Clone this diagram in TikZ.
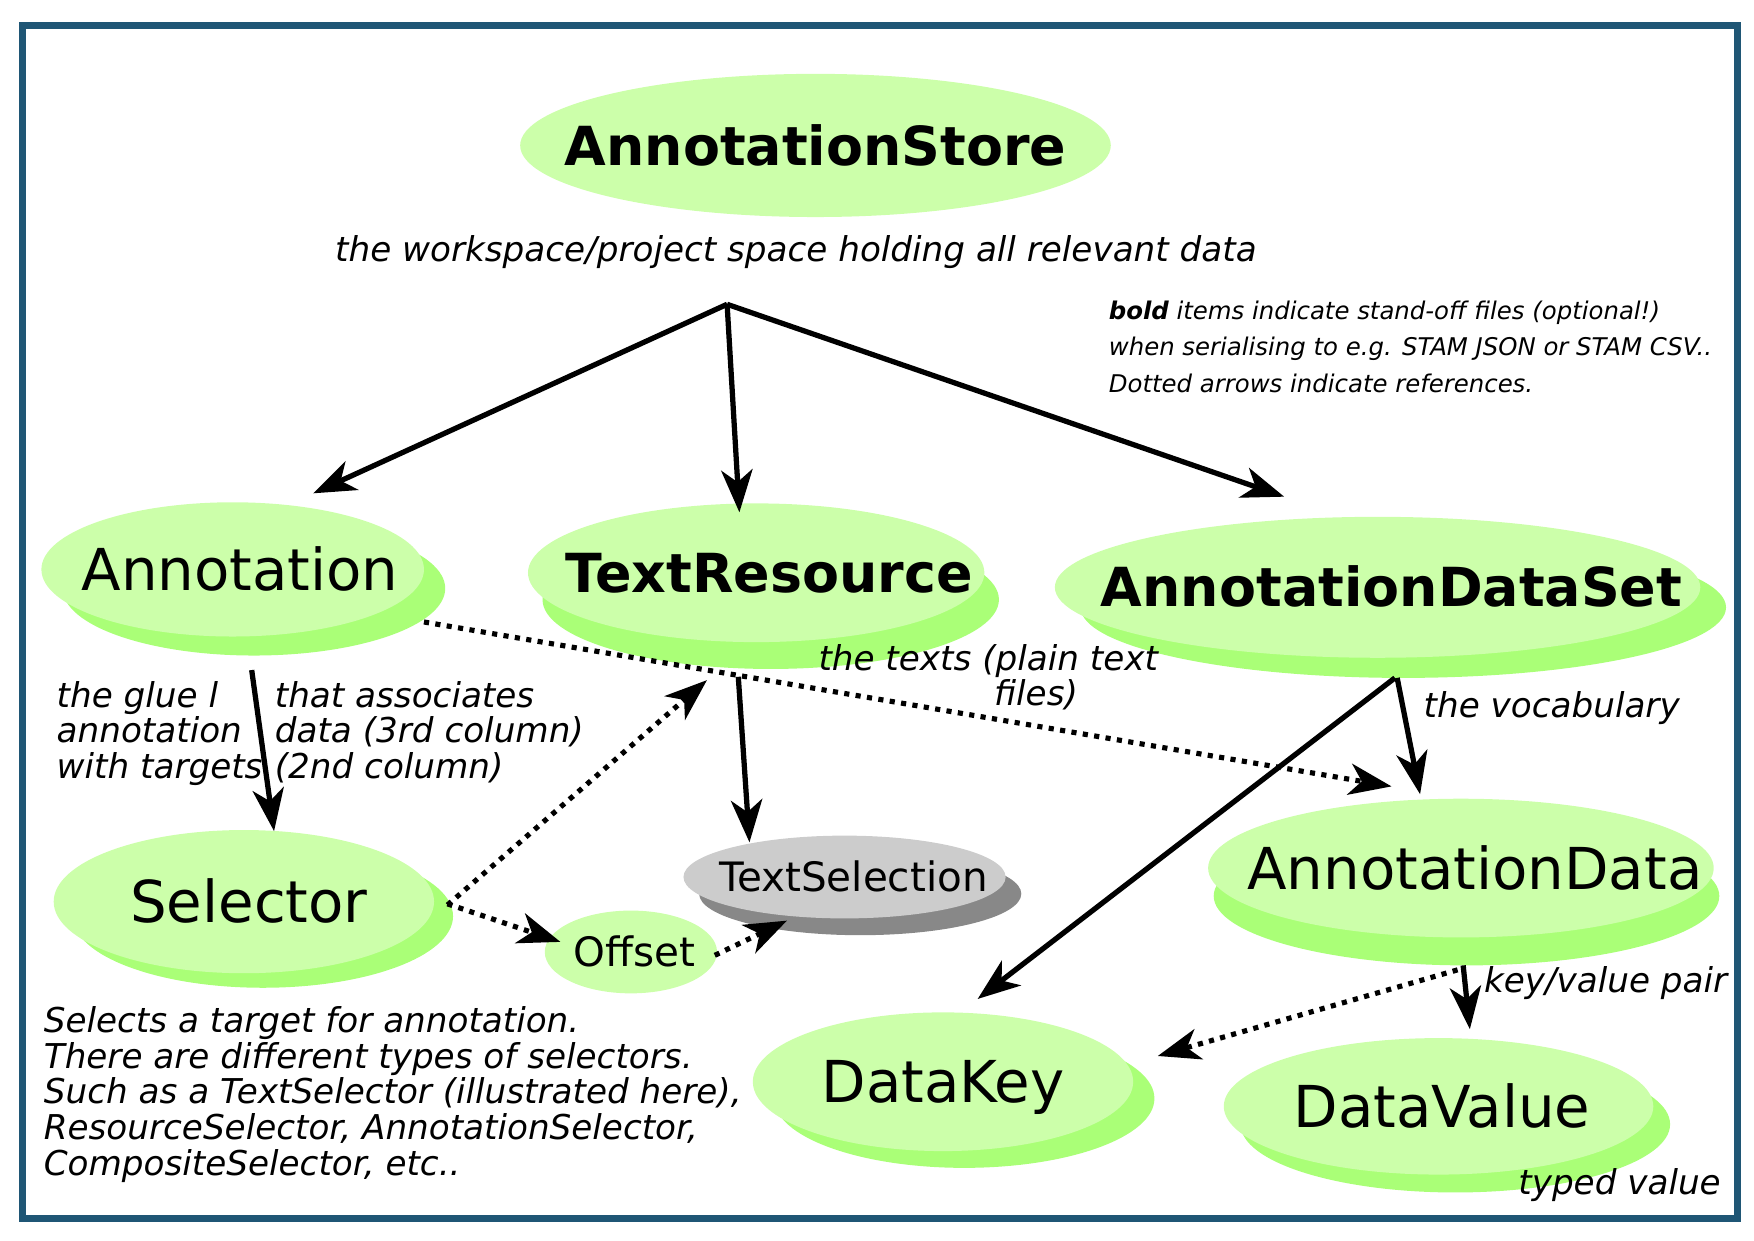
\documentclass[tikz,border=0pt]{standalone}
\usepackage{fontspec}
\setmainfont{DejaVu Sans}
\usepackage{tikz}
\usetikzlibrary{arrows.meta, shapes.geometric, shadows, calc}

\definecolor{frameblue}{RGB}{31,86,117}
\definecolor{leaf}{RGB}{204,255,170}
\definecolor{leafshade}{RGB}{170,255,119}
\definecolor{stone}{RGB}{204,204,204}
\definecolor{stoneshade}{RGB}{136,136,136}

\begin{document}
\begin{tikzpicture}[
    x=0.1mm, y=-0.1mm,
    >={Stealth[length=3.8mm, width=2.8mm, inset=1.1mm]},
    entity/.style={ellipse, fill=leaf, inner sep=0pt, outer sep=0pt,
        font=\fontsize{14.7}{17}\selectfont, text height=10.7pt, text depth=0pt},
    stored/.style={entity, font=\fontsize{13.7}{16}\selectfont\bfseries, text height=10pt},
    minor/.style={entity, font=\fontsize{10.3}{12}\selectfont, text height=7.5pt},
    lift/.style n args={3}{drop shadow={shadow xshift=#1, shadow yshift=-#2,
        opacity=1, fill=#3}},
    link/.style={->, line width=0.47mm},
    ref/.style={->, line width=0.46mm, dash pattern=on 0.46mm off 0.57mm},
    remark/.style={inner sep=0pt, font=\fontsize{8.7}{9.07}\selectfont\itshape}
]
    \useasboundingbox (0,0) rectangle (1568,1109);
    \draw[frameblue, line width=0.6mm] (20,23) rectangle (1553,1089);

    % the store and what it holds
    \node[stored, minimum width=52.8mm, minimum height=12.8mm] (store) at (729,130) {\makebox[0pt]{AnnotationStore}};
    \node[remark, anchor=base] (scope) at (711.5,234) {the workspace/project space holding all relevant data};
    \coordinate (hub) at (650,272);

    \node[remark, anchor=base west, align=left, font=\fontsize{6.2}{9.2}\selectfont\itshape] (legend) at (990.6,350.5)
        {\textbf{bold} items indicate stand-off files (optional!)\\when serialising to e.g. STAM JSON or STAM CSV..\\Dotted arrows indicate references.};

    \node[entity, lift={1.9mm}{1.7mm}{leafshade}, minimum width=34.2mm, minimum height=12mm] (annot) at (208,509) {\makebox[0pt]{\hspace*{1.3mm}Annotation}};
    \node[stored, lift={1.3mm}{2.4mm}{leafshade}, minimum width=40.8mm, minimum height=12.4mm] (res) at (676,512) {\makebox[0pt]{\hspace*{2.3mm}TextResource}};
    \node[stored, lift={2.3mm}{1.8mm}{leafshade}, minimum width=57.7mm, minimum height=12.6mm] (dset) at (1231.5,525) {\makebox[0pt]{\hspace*{2.5mm}AnnotationDataSet}};

    \node[entity, lift={1.7mm}{1.3mm}{leafshade}, minimum width=34mm, minimum height=12.8mm] (sel) at (218,806) {\makebox[0pt]{\hspace*{0.9mm}Selector}};
    \node[minor, minimum width=15.4mm, minimum height=7.4mm] (offs) at (564,851) {\makebox[0pt]{\hspace*{0.7mm}Offset}};
    \node[minor, fill=stone, lift={1.4mm}{1.5mm}{stoneshade}, minimum width=28.8mm, minimum height=7.4mm] (tsel) at (755,784) {\makebox[0pt]{\hspace*{1.6mm}TextSelection}};
    \node[entity, lift={0.5mm}{2.5mm}{leafshade}, minimum width=45.2mm, minimum height=12.4mm] (adata) at (1306,776) {\makebox[0pt]{\hspace*{2.5mm}AnnotationData}};
    \node[entity, lift={1.9mm}{1.5mm}{leafshade}, minimum width=34mm, minimum height=12.4mm] (dkey) at (843,967) {\makebox[0pt]{DataKey}};
    \node[entity, lift={1.5mm}{1.6mm}{leafshade}, minimum width=38.4mm, minimum height=12.2mm] (dval) at (1286,989) {\makebox[0pt]{\hspace*{0.6mm}DataValue}};

    % labels
    \node[remark, anchor=base west, align=left] (glue) at (50,696) {the glue l\\annotation\\with targets};
    \node[remark, anchor=base west, align=left] (assoc) at (245,696) {that associates\\data (3rd column)\\(2nd column)};
    \node[remark, anchor=base west, align=left] (texts) at (731,631) {the texts (plain text\\\hspace*{15.7mm}files)};
    \node[remark, anchor=base west] (vocab) at (1272,641) {the vocabulary};
    \node[remark, anchor=base west] (pair) at (1326,887) {key/value pair};
    \node[remark, anchor=base east] (typed) at (1539,1068) {typed value};
    \node[remark, anchor=base west, align=left] (selnote) at (38.5,1050.5)
        {Selects a target for annotation.\\There are different types of selectors.\\Such as a TextSelector (illustrated here),\\ResourceSelector, AnnotationSelector,\\CompositeSelector, etc..};

    % ownership
    \draw[link] (hub) -- ($(annot)+(72,-68)$);
    \draw[link] (hub) -- ($(res)+(-15,-54)$);
    \draw[link] (hub) -- ($(dset)+(-83.5,-81)$);
    \draw[link] ($(annot)+(17,90)$) -- ($(sel)+(27,-63)$);
    \draw[link] ($(res)+(-16,93)$) -- ($(tsel)+(-85,-31)$);
    \draw[link] ($(dset)+(17.5,81)$) -- ($(adata)+(-36.5,-66)$);
    \draw[link] ($(dset)+(15.5,81)$) -- ($(dkey)+(31,-74)$);
    \draw[link] ($(adata)+(2,87)$) -- ($(dval)+(28,-69)$);

    % references
    \draw[ref] ($(annot)+(171,47)$) -- ($(adata)+(-62,-73)$);
    \draw[ref] ($(sel)+(182,3)$) -- ($(res)+(-44,96)$);
    \draw[ref] ($(sel)+(182,2)$) -- ($(offs)+(-63,-9)$);
    \draw[ref] ($(offs)+(75,3)$) -- ($(tsel)+(-51.5,39)$);
    \draw[ref] ($(adata)+(-3,91)$) -- ($(dkey)+(192,-23)$);
\end{tikzpicture}
\end{document}
